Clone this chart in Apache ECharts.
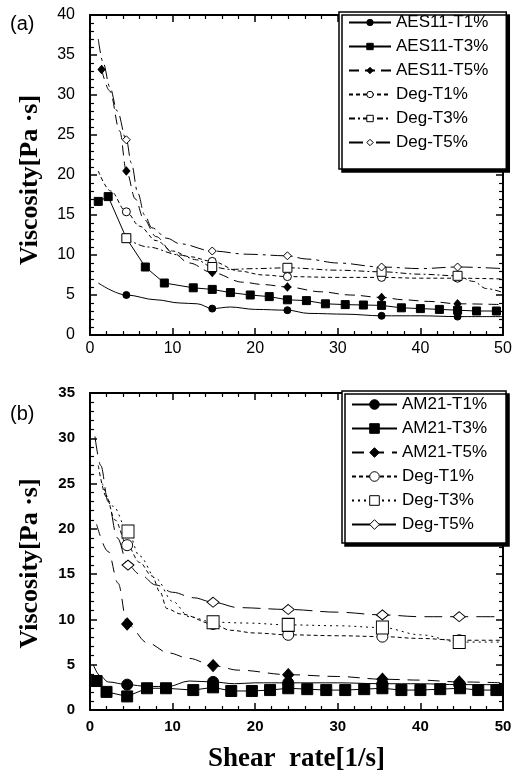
<!DOCTYPE html>
<html>
<head>
<meta charset="utf-8">
<script src="https://cdn.jsdelivr.net/npm/echarts@6/dist/echarts.min.js"></script>
<style>
  html, body { margin: 0; padding: 0; background: #fff; }
  #chart { width: 515px; height: 776px; }
</style>
</head>
<body>
<div id="chart"></div>
<script>
  // shear rate [1/s] -> viscosity [Pa·s]
  // panel (a)
  const aesT1 = [[1,6.5],[4.4,5.0],[8,4.4],[10.9,4.0],[13,3.9],[14.8,3.3],[17,3.5],[20,3.2],[23.9,3.1],[26.5,2.7],[31,2.6],[35.3,2.4],[40,2.4],[44.5,2.3],[50,2.3]]
  const aesT3 = [[1,16.7],[2.2,17.3],[4.4,12.1],[6.7,8.5],[9,6.5],[12.5,5.9],[14.8,5.7],[17,5.3],[19.4,5.0],[21.7,4.8],[23.9,4.4],[26.2,4.3],[28.5,3.9],[30.9,3.8],[33.1,3.75],[35.3,3.7],[37.7,3.4],[40,3.3],[42.3,3.2],[44.5,3.1],[46.8,3.0],[49.2,3.0]]
  const aesT5 = [[1.4,33.2],[2.4,30.5],[3.6,25.5],[4.4,20.5],[5.5,17],[6.5,14.5],[8,12.3],[10,10.3],[12,9.0],[14.8,7.8],[18.5,6.6],[21,6.3],[23.9,6.0],[28,5.4],[31.5,5.0],[35.3,4.7],[38,4.4],[41,4.2],[44.5,3.9],[50,3.8]]
  const degAT1 = [[1,20.5],[2.5,18],[4.4,15.4],[6,13.6],[8,11.8],[10,10.5],[12,9.8],[14.8,9.2],[18,8.0],[21,7.5],[23.9,7.3],[30,7.2],[35.3,7.2],[40,7.1],[44.5,7.1],[50,7.0]]
  const degAT3 = [[4.4,12.1],[7,11],[10.9,10],[12.9,9.4],[14.8,8.5],[17,8.2],[20,8.3],[23.9,8.4],[30,8.1],[35.3,7.9],[40,7.6],[44.5,7.4],[46.4,6.7],[48,5.8],[50,5.3]]
  const degAT5 = [[1,37],[1.6,34],[2.4,31],[3.3,28],[4.4,24.4],[5,21.5],[5.8,17.7],[6.6,15],[7.5,13.4],[9.3,12.1],[10.9,11.4],[14.8,10.5],[19,10.1],[23.9,9.9],[26.2,9.5],[30,9.0],[35.3,8.5],[40,8.3],[44.5,8.5],[50,8.3]]
  const marksA = [4.4, 14.8, 23.9, 35.3, 44.5]
  const marksA5 = [1.4, 4.4, 14.8, 23.9, 35.3, 44.5]

  // panel (b)
  const amT1 = [[0.4,5.0],[1.2,3.8],[2.2,3.1],[4.5,2.8],[7,2.6],[9.5,2.6],[12,3.2],[14.9,3.1],[17.5,2.9],[20,3.0],[24,3.0],[30,3.0],[35.4,2.9],[40,2.9],[44.7,2.8],[50,2.8]]
  const amT3 = [[0.8,3.2],[2,2.0],[4.5,1.5],[6.9,2.4],[9.2,2.4],[12.5,2.2],[14.9,2.5],[17.1,2.1],[19.6,2.1],[21.8,2.2],[24,2.4],[26.3,2.3],[28.6,2.2],[30.9,2.2],[33.2,2.3],[35.4,2.4],[37.7,2.2],[40,2.2],[42.4,2.3],[44.8,2.4],[47,2.2],[49.2,2.2]]
  const amT5 = [[0.8,20.5],[2.2,17.5],[3.4,14],[4.5,9.5],[7,7.4],[9.5,6.3],[12,5.7],[14.9,4.9],[18,4.4],[24,3.9],[30,3.7],[35.4,3.4],[40,3.3],[44.7,3.1],[50,3.0]]
  const degBT1 = [[1,27],[2,23.5],[3,21],[4.5,18.2],[6,16.3],[7.5,14.8],[8.5,13],[9.3,11.2],[11,10.6],[14.9,9.5],[17,8.8],[20,8.5],[24,8.3],[30,8.2],[35.4,8.1],[40,7.9],[44.7,7.7],[50,7.7]]
  const degBT3 = [[1.5,25],[2.8,22.5],[4.6,19.7],[6,17],[8,14.5],[10,12],[12,10.3],[14.9,9.7],[19,9.6],[24,9.4],[30,9.3],[35.4,9.1],[40,8.3],[44.7,7.5],[50,7.5]]
  const degBT5 = [[0.6,30.2],[1.3,27],[2.2,23],[3.3,19],[4.6,16.0],[6,15],[8,13.8],[10,13],[12.5,12.4],[14.9,11.9],[18,11.3],[24,11.1],[30,10.8],[35.4,10.5],[40,10.3],[44.7,10.3],[50,10.3]]
  const marksB = [4.5, 4.6, 14.9, 24, 35.4, 44.7]

  const namesA = ['AES11-T1%', 'AES11-T3%', 'AES11-T5%', 'Deg-T1%', 'Deg-T3%', 'Deg-T5%']
  const namesB = ['AM21-T1%', 'AM21-T3%', 'AM21-T5%', 'Deg-T1% (b)', 'Deg-T3% (b)', 'Deg-T5% (b)']
  const yMaxA = 40, yMaxB = 35

  const sans = 'Liberation Sans'
  const serif = 'Liberation Serif'

  function makeData(pts, marks) {
    return pts.map(p => {
      if (marks === 'all' || marks.some(m => Math.abs(m - p[0]) < 0.01)) return p
      return { value: p, symbol: 'none' }
    })
  }

  function line(name, pts, marks, panel, o) {
    return {
      name: name,
      type: 'line',
      xAxisIndex: panel * 2,
      yAxisIndex: panel * 2,
      smooth: o.smooth === undefined ? 0.35 : o.smooth,
      smoothMonotone: 'x',
      symbol: o.symbol,
      symbolSize: o.size,
      lineStyle: { color: '#000', width: 1, type: o.dash || 'solid' },
      itemStyle: { color: o.open ? '#fff' : '#000', borderColor: '#000', borderWidth: 1 },
      emphasis: { disabled: true },
      data: makeData(pts, marks)
    }
  }

  function xAx(grid, pos, label, bold) {
    return {
      type: 'value', gridIndex: grid, position: pos,
      min: 0, max: 50, interval: 10,
      axisLine: { show: true, onZero: false, lineStyle: { color: '#000', width: 2 } },
      axisTick: { show: true, inside: true, length: 7, lineStyle: { color: '#000', width: 1.5 } },
      minorTick: { show: true, splitNumber: 5, length: 4, lineStyle: { color: '#000', width: 1.2 } },
      splitLine: { show: false },
      minorSplitLine: { show: false },
      axisLabel: { show: label, margin: bold ? 9 : 6, color: '#000', fontSize: bold ? 15 : 16,
        fontWeight: bold ? 'bold' : 'normal', fontFamily: sans }
    }
  }

  function yAx(grid, pos, max, label, bold) {
    return {
      type: 'value', gridIndex: grid, position: pos,
      min: 0, max: max, interval: 5,
      axisLine: { show: true, onZero: false, lineStyle: { color: '#000', width: 2 } },
      axisTick: { show: true, inside: true, length: 7, lineStyle: { color: '#000', width: 1.5 } },
      minorTick: { show: true, splitNumber: 5, length: 4, lineStyle: { color: '#000', width: 1.2 } },
      splitLine: { show: false },
      minorSplitLine: { show: false },
      axisLabel: { show: label, margin: 15, color: '#000', fontSize: bold ? 15 : 16,
        fontWeight: bold ? 'bold' : 'normal', fontFamily: sans }
    }
  }

  const xAxes = [xAx(0, 'bottom', true, false), xAx(0, 'top', false), xAx(1, 'bottom', true, true), xAx(1, 'top', false)]
  xAxes[2].name = 'Shear  rate[1/s]'
  xAxes[2].nameLocation = 'middle'
  xAxes[2].nameGap = 36
  xAxes[2].nameTextStyle = { fontSize: 27, fontWeight: 'bold', fontFamily: serif, color: '#000' }

  const yAxes = [yAx(0, 'left', yMaxA, true, false), yAx(0, 'right', yMaxA, false), yAx(1, 'left', yMaxB, true, true), yAx(1, 'right', yMaxB, false)]
  yAxes[0].name = 'Viscosity[Pa ·s]'
  yAxes[0].nameLocation = 'middle'
  yAxes[0].nameGap = 47
  yAxes[0].nameTextStyle = { fontSize: 26, fontWeight: 'bold', fontFamily: serif, color: '#000', padding: [0, 10, 0, 0] }
  yAxes[2].name = 'Viscosity[Pa ·s]'
  yAxes[2].nameLocation = 'middle'
  yAxes[2].nameGap = 47
  yAxes[2].nameTextStyle = { fontSize: 26, fontWeight: 'bold', fontFamily: serif, color: '#000', padding: [0, 24, 0, 0] }

  const series = [
    line(namesA[0], aesT1, marksA, 0, { symbol: 'circle', size: 7 }),
    line(namesA[1], aesT3, 'all', 0, { symbol: 'rect', size: 8, smooth: false }),
    line(namesA[2], aesT5, marksA5, 0, { symbol: 'diamond', size: [7, 8], dash: [10, 6] }),
    line(namesA[3], degAT1, marksA, 0, { symbol: 'circle', size: 8, open: true, dash: [4, 3] }),
    line(namesA[4], degAT3, marksA, 0, { symbol: 'rect', size: 9, open: true, dash: [6, 3, 2, 3] }),
    line(namesA[5], degAT5, marksA, 0, { symbol: 'diamond', size: [8, 8], open: true, dash: [14, 5, 3, 5] }),

    line(namesB[0], amT1, marksB, 1, { symbol: 'circle', size: 11 }),
    line(namesB[1], amT3, 'all', 1, { symbol: 'rect', size: 11, smooth: false }),
    line(namesB[2], amT5, marksB, 1, { symbol: 'diamond', size: [11, 12], dash: [12, 8] }),
    line(namesB[3], degBT1, marksB, 1, { symbol: 'circle', size: 11, open: true, dash: [4, 3] }),
    line(namesB[4], degBT3, marksB, 1, { symbol: 'rect', size: [12, 13], open: true, dash: [2, 4] }),
    line(namesB[5], degBT5, marksB, 1, { symbol: 'diamond', size: [12, 10], open: true, dash: [18, 8] })
  ]

  const legendBox = {
    orient: 'vertical',
    backgroundColor: '#fff',
    borderColor: '#000',
    borderWidth: 1.5,
    shadowColor: '#000',
    shadowOffsetX: 3,
    shadowOffsetY: 3,
    shadowBlur: 0,
    selectedMode: false,
    itemStyle: { borderWidth: 1 },
    textStyle: { fontSize: 17, color: '#000', fontFamily: sans }
  }

  const chart = echarts.init(document.getElementById('chart'), null, { renderer: 'canvas' })
  chart.setOption({
    animation: false,
    backgroundColor: '#fff',
    title: [
      { text: '(a)', left: 5, top: 9, textStyle: { fontSize: 20, fontWeight: 'normal', fontFamily: sans, color: '#000' } },
      { text: '(b)', left: 5, top: 399, textStyle: { fontSize: 20, fontWeight: 'normal', fontFamily: sans, color: '#000' } }
    ],
    grid: [
      { left: 90, top: 15, width: 413, height: 320, outerBoundsMode: 'none' },
      { left: 90, top: 393, width: 413, height: 317, outerBoundsMode: 'none' }
    ],
    legend: [
      Object.assign({}, legendBox, {
        left: 339, top: 12, padding: [2, 18, 18, 9],
        itemWidth: 42, itemHeight: 8, itemGap: 7,
        data: namesA
      }),
      Object.assign({}, legendBox, {
        left: 342, top: 391, padding: [5, 19, 10, 9],
        itemWidth: 45, itemHeight: 12, itemGap: 7,
        formatter: n => n.replace(' (b)', ''),
        data: namesB
      })
    ],
    xAxis: xAxes,
    yAxis: yAxes,
    series: series
  })
</script>
</body>
</html>
